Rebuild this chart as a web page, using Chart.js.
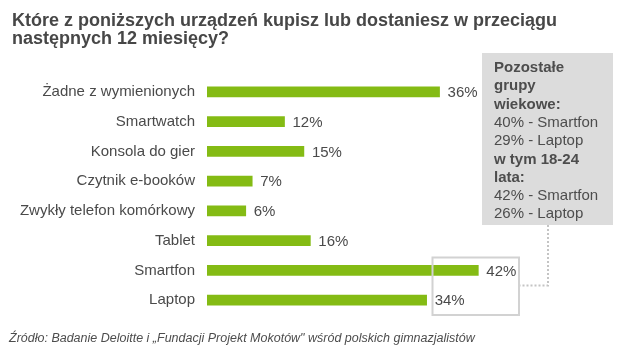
<!DOCTYPE html>
<html>
<head>
<meta charset="utf-8">
<script src="https://cdn.jsdelivr.net/npm/chart.js@4/dist/chart.umd.min.js"></script>
<style>
  html, body { margin: 0; padding: 0; background: #fff; }
  #wrap { width: 626px; height: 356px; position: relative; }
</style>
</head>
<body>
<div id="wrap"><canvas id="c" width="626" height="356"></canvas></div>
<script>
const titleLines = ["Które z poniższych urządzeń kupisz lub dostaniesz w przeciągu", "następnych 12 miesięcy?"];
const categories = ["Żadne z wymienionych", "Smartwatch", "Konsola do gier", "Czytnik e-booków", "Zwykły telefon komórkowy", "Tablet", "Smartfon", "Laptop"];
const values = [36, 12, 15, 7, 6, 16, 42, 34];
const noteLines = ["Pozostałe", "grupy", "wiekowe:", "40% - Smartfon", "29% - Laptop", "w tym 18-24", "lata:", "42% - Smartfon", "26% - Laptop"];
const noteBold = [true, true, true, false, false, true, true, false, false];
const highlighted = ["Smartfon", "Laptop"];
const sourceText = "Źródło: Badanie Deloitte i „Fundacji Projekt Mokotów\" wśród polskich gimnazjalistów";

const FONT = "'Liberation Sans', Arial, sans-serif";
const TEXT = "#4a4a4a";
const GREEN = "#84bb14";

const annotations = {
  id: 'annotations',
  afterDatasetsDraw(chart) {
    const ctx = chart.ctx;
    const meta = chart.getDatasetMeta(0);
    ctx.save();
    // value labels
    ctx.font = "15px " + FONT;
    ctx.fillStyle = TEXT;
    ctx.textAlign = 'left';
    ctx.textBaseline = 'middle';
    meta.data.forEach((bar, i) => {
      ctx.fillText(values[i] + '%', bar.x + 8, bar.y + 1);
    });
    // highlight box around Smartfon/Laptop labels
    const i1 = categories.indexOf(highlighted[0]);
    const i2 = categories.indexOf(highlighted[1]);
    const b1 = meta.data[i1], b2 = meta.data[i2];
    const hx0 = Math.round(Math.min(b1.x, b2.x)) + 5.5;
    const hx1 = Math.round(Math.max(b1.x, b2.x)) + 41;
    const hy0 = Math.round(b1.y) - 12.5;
    const hy1 = Math.round(b2.y) + 15;
    ctx.strokeStyle = "#d2d2d2";
    ctx.lineWidth = 2;
    ctx.strokeRect(hx0, hy0, hx1 - hx0, hy1 - hy0);
    // gray note box
    const bx = 482, by = 53, bw = 131, bh = 172;
    ctx.fillStyle = "#dcdcdc";
    ctx.fillRect(bx, by, bw, bh);
    ctx.fillStyle = "#4d4d4d";
    ctx.textBaseline = 'alphabetic';
    noteLines.forEach((t, i) => {
      ctx.font = (noteBold[i] ? "bold " : "") + "15px " + FONT;
      ctx.fillText(t, bx + 12, 72 + i * 18.3);
    });
    // dotted connector
    const cx = 548, cy = Math.round((hy0 + hy1) / 2) - 0.5;
    ctx.strokeStyle = "#c4c4c4";
    ctx.lineWidth = 2;
    ctx.setLineDash([2, 2]);
    ctx.beginPath();
    ctx.moveTo(cx, by + bh);
    ctx.lineTo(cx, cy);
    ctx.lineTo(hx1 + 1, cy);
    ctx.stroke();
    ctx.setLineDash([]);
    // title
    ctx.fillStyle = "#474747";
    ctx.font = "bold 18px " + FONT;
    ctx.fillText(titleLines[0], 12, 26);
    ctx.fillText(titleLines[1], 12, 44);
    // source
    ctx.fillStyle = "#4d4d4d";
    ctx.font = "italic 12.5px " + FONT;
    ctx.fillText(sourceText, 9, 342);
    ctx.restore();
  }
};

new Chart(document.getElementById('c'), {
  type: 'bar',
  data: {
    labels: categories,
    datasets: [{
      data: values,
      backgroundColor: GREEN,
      borderWidth: 0,
      barThickness: 10
    }]
  },
  options: {
    indexAxis: 'y',
    responsive: false,
    animation: false,
    devicePixelRatio: 1,
    layout: { padding: { top: 77, bottom: 41, left: 0, right: 96 } },
    plugins: { legend: { display: false }, tooltip: { enabled: false }, title: { display: false } },
    scales: {
      x: { display: false, min: 0, max: 50 },
      y: {
        grid: { display: false, drawTicks: false },
        border: { display: false },
        ticks: { font: { size: 15, family: FONT }, color: TEXT, padding: 12 },
        afterFit(scale) { scale.width = 207; }
      }
    }
  },
  plugins: [annotations]
});
</script>
</body>
</html>
